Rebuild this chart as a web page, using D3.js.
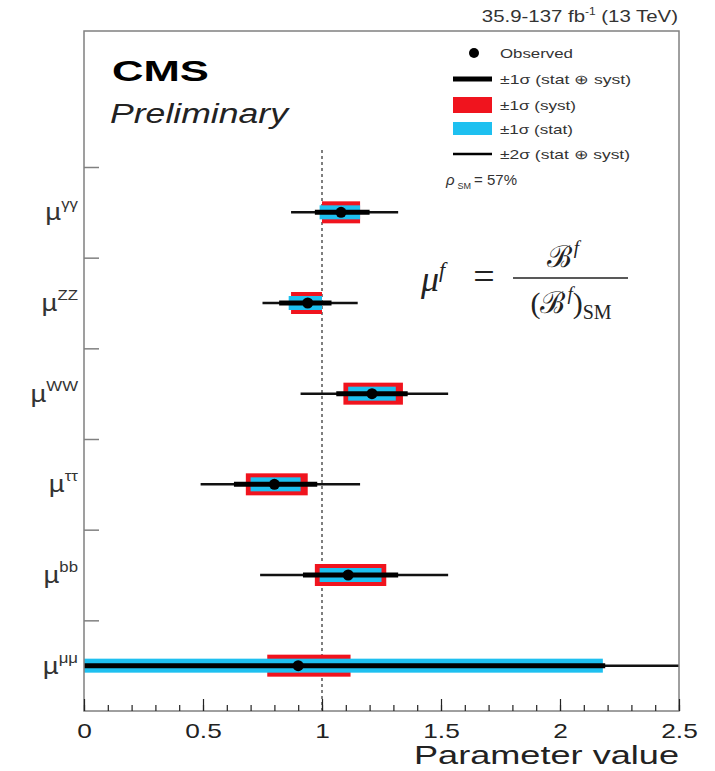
<!DOCTYPE html>
<html>
<head>
<meta charset="utf-8">
<script src="https://cdn.jsdelivr.net/npm/d3@7"></script>
<style>
  body { margin: 0; background: #fff; }
  svg { display: block; font-family: "Liberation Sans", Arial, sans-serif; }
</style>
</head>
<body>
<svg width="715" height="771"></svg>
<script>
// decay channels, from top to bottom
var canais = ["γγ", "ZZ", "WW", "ττ", "bb", "μμ"]
// best fit value
var observado = [1.08, 0.94, 1.21, 0.80, 1.11, 0.90]
// +-1 sigma total (stat + syst)
var total1Lo = [0.97, 0.82, 1.06, 0.63, 0.92, -0.5]
var total1Hi = [1.20, 1.04, 1.36, 0.98, 1.32, 2.19]
// +-1 sigma syst
var systLo = [1.00, 0.87, 1.09, 0.68, 0.97, 0.77]
var systHi = [1.16, 1.00, 1.34, 0.94, 1.27, 1.12]
// +-1 sigma stat
var statLo = [0.99, 0.86, 1.11, 0.70, 0.99, -0.4]
var statHi = [1.16, 1.00, 1.31, 0.91, 1.25, 2.18]
// +-2 sigma total
var total2Lo = [0.87, 0.75, 0.91, 0.49, 0.74, -1.5]
var total2Hi = [1.32, 1.15, 1.53, 1.16, 1.53, 3.5]

var xTicks = [0, 0.5, 1, 1.5, 2, 2.5]
var xTickLabels = ["0", "0.5", "1", "1.5", "2", "2.5"]

const width = 715
const height = 771
var esq = 84, dir = 679, topo = 31, baixo = 711

var vermelho = "#f0141e"
var azul = "#1ec0f0"
var cinza = "#808080"

var svg = d3.select("svg")

var x = d3.scaleLinear().domain([0, 2.5]).range([esq, dir])
var y = d3.scaleLinear().domain([0, 7.5]).range([baixo, topo])

// linhas da tabela, indice 0 = topo
var linhas = canais.map(function(c, i) {
    return {
        nome: c, pos: canais.length - 1 - i + 0.5,
        v: observado[i],
        t1: [total1Lo[i], total1Hi[i]], t2: [total2Lo[i], total2Hi[i]],
        sy: [systLo[i], systHi[i]], st: [statLo[i], statHi[i]]
    }
})

svg.append("defs").append("clipPath").attr("id", "area")
    .append("rect").attr("x", esq).attr("y", topo)
    .attr("width", dir - esq).attr("height", baixo - topo)

// linha tracejada em mu = 1
svg.append("line")
    .attr("x1", x(1)).attr("x2", x(1))
    .attr("y1", y(0)).attr("y2", y(6.2))
    .attr("stroke", "#555").attr("stroke-width", 1.5)
    .attr("stroke-dasharray", "3,3")

var g = svg.append("g").attr("clip-path", "url(#area)")

var linha = g.selectAll("g.canal").data(linhas).join("g").attr("class", "canal")

linha.append("line")
    .attr("x1", d => x(d.t2[0])).attr("x2", d => x(d.t2[1]))
    .attr("y1", d => y(d.pos)).attr("y2", d => y(d.pos))
    .attr("stroke", "#111").attr("stroke-width", 2.5)

linha.append("rect")
    .attr("x", d => x(d.sy[0])).attr("width", d => x(d.sy[1]) - x(d.sy[0]))
    .attr("y", d => y(d.pos) - 11).attr("height", 22)
    .attr("fill", vermelho)

linha.append("rect")
    .attr("x", d => x(d.st[0])).attr("width", d => x(d.st[1]) - x(d.st[0]))
    .attr("y", d => y(d.pos) - 7).attr("height", 14)
    .attr("fill", azul)

linha.append("line")
    .attr("x1", d => x(d.t1[0])).attr("x2", d => x(d.t1[1]))
    .attr("y1", d => y(d.pos)).attr("y2", d => y(d.pos))
    .attr("stroke", "#000").attr("stroke-width", 5)

linha.append("circle")
    .attr("cx", d => x(d.v)).attr("cy", d => y(d.pos))
    .attr("r", 5.5).attr("fill", "#000")

// moldura
svg.append("rect")
    .attr("x", esq).attr("y", topo)
    .attr("width", dir - esq).attr("height", baixo - topo)
    .attr("fill", "none").attr("stroke", cinza).attr("stroke-width", 1.5)

// eixo x: ticks menores e maiores
var eixoMenor = svg.append("g").attr("transform", "translate(0," + baixo + ")")
    .call(d3.axisBottom(x).tickValues(d3.range(0, 26).map(i => i / 10)).tickSize(-6).tickFormat(""))
var eixoX = svg.append("g").attr("transform", "translate(0," + baixo + ")")
    .call(d3.axisBottom(x).tickValues(xTicks).tickSize(-12).tickFormat((d, i) => xTickLabels[i]))
eixoMenor.select(".domain").remove()
eixoX.select(".domain").remove()
svg.selectAll(".tick line").attr("stroke", "#222").attr("stroke-width", 1.2)
eixoX.selectAll("text")
    .attr("y", 27).attr("dy", 0)
    .attr("font-size", 21).attr("fill", "#222")
    .attr("font-family", "Liberation Sans, Arial, sans-serif")
    .attr("transform", "scale(1.25,1)")

svg.append("text")
    .attr("x", dir).attr("y", 764)
    .attr("text-anchor", "end")
    .attr("font-size", 25).attr("fill", "#222")
    .attr("textLength", 265).attr("lengthAdjust", "spacingAndGlyphs")
    .text("Parameter value")

// eixo y: ticks entre as categorias
var eixoY = svg.append("g").attr("transform", "translate(" + esq + ",0)")
    .call(d3.axisLeft(y).tickValues([1, 2, 3, 4, 5, 6]).tickSize(-15).tickFormat(""))
eixoY.select(".domain").remove()
eixoY.selectAll(".tick line").attr("stroke", cinza).attr("stroke-width", 1.5)

var rotulos = svg.append("g").selectAll("text").data(linhas).join("text")
    .attr("transform", d => "translate(78," + (y(d.pos) + 8) + ") scale(1.2,1)")
    .attr("text-anchor", "end")
    .attr("fill", "#333")
rotulos.append("tspan").attr("font-size", 23).text("µ")
rotulos.append("tspan").attr("font-size", 14).attr("dy", -11).text(d => d.nome)

// CMS Preliminary
svg.append("text")
    .attr("x", 112).attr("y", 81)
    .attr("font-size", 29).attr("font-weight", "bold").attr("fill", "#000")
    .attr("textLength", 97).attr("lengthAdjust", "spacingAndGlyphs")
    .text("CMS")
svg.append("text")
    .attr("x", 110).attr("y", 123)
    .attr("font-size", 27).attr("font-style", "italic").attr("fill", "#222")
    .attr("textLength", 178).attr("lengthAdjust", "spacingAndGlyphs")
    .text("Preliminary")

// luminosidade
var lumi = svg.append("text")
    .attr("transform", "translate(678,22) scale(1.2,1)")
    .attr("text-anchor", "end")
    .attr("font-size", 17).attr("fill", "#333")
lumi.append("tspan").text("35.9-137 fb")
lumi.append("tspan").attr("font-size", 10).attr("dy", -7).text("-1")
lumi.append("tspan").attr("dy", 7).text(" (13 TeV)")

// legenda
var leg = svg.append("g")
leg.append("circle").attr("cx", 474).attr("cy", 53).attr("r", 5).attr("fill", "#000")
leg.append("line").attr("x1", 453).attr("x2", 492).attr("y1", 79).attr("y2", 79)
    .attr("stroke", "#000").attr("stroke-width", 5)
leg.append("rect").attr("x", 453).attr("y", 97).attr("width", 39).attr("height", 16).attr("fill", vermelho)
leg.append("rect").attr("x", 453).attr("y", 122).attr("width", 39).attr("height", 13).attr("fill", azul)
leg.append("line").attr("x1", 453).attr("x2", 492).attr("y1", 154).attr("y2", 154)
    .attr("stroke", "#000").attr("stroke-width", 2.5)

var itensLeg = [
    { t: "Observed", y: 53, w: 73 },
    { t: "±1σ (stat ⊕ syst)", y: 79, w: 131 },
    { t: "±1σ (syst)", y: 105, w: 76 },
    { t: "±1σ (stat)", y: 129, w: 73 },
    { t: "±2σ (stat ⊕ syst)", y: 154, w: 130 }
]
leg.selectAll("text.item").data(itensLeg).join("text")
    .attr("class", "item")
    .attr("x", 500).attr("y", d => d.y + 5)
    .attr("font-size", 13).attr("fill", "#333")
    .attr("textLength", d => d.w).attr("lengthAdjust", "spacingAndGlyphs")
    .text(d => d.t)

var rho = leg.append("text").attr("x", 446).attr("y", 185).attr("font-size", 15).attr("fill", "#333")
rho.append("tspan").attr("font-style", "italic").text("ρ")
rho.append("tspan").attr("font-size", 9).attr("dy", 4).attr("dx", 3).text("SM")
rho.append("tspan").attr("dy", -4).attr("dx", 3).text("= 57%")

// formula
var serif = "Liberation Serif, Times New Roman, serif"
var f1 = svg.append("text").attr("x", 421).attr("y", 291)
    .attr("font-family", serif).attr("font-size", 36).attr("fill", "#222")
f1.append("tspan").attr("font-style", "italic").text("μ")
f1.append("tspan").attr("font-style", "italic").attr("font-size", 22).attr("dy", -14).text("f")
svg.append("text").attr("x", 484).attr("y", 289).attr("text-anchor", "middle")
    .attr("font-family", serif).attr("font-size", 38).attr("fill", "#222").text("=")
svg.append("line").attr("x1", 513).attr("x2", 628).attr("y1", 278).attr("y2", 278)
    .attr("stroke", "#222").attr("stroke-width", 1.6)
var num = svg.append("text").attr("x", 563).attr("y", 267).attr("text-anchor", "middle")
    .attr("font-family", serif).attr("font-size", 30).attr("fill", "#222")
num.append("tspan").attr("font-family", "DejaVu Serif, serif").text("ℬ")
num.append("tspan").attr("font-style", "italic").attr("font-size", 19).attr("dy", -13).attr("dx", 2).text("f")
var den = svg.append("text").attr("x", 571).attr("y", 313).attr("text-anchor", "middle")
    .attr("font-family", serif).attr("font-size", 30).attr("fill", "#222")
den.append("tspan").text("(")
den.append("tspan").attr("font-family", "DejaVu Serif, serif").text("ℬ")
den.append("tspan").attr("font-style", "italic").attr("font-size", 19).attr("dy", -13).attr("dx", 2).text("f")
den.append("tspan").attr("dy", 13).text(")")
den.append("tspan").attr("font-size", 20).attr("dy", 6).text("SM")
</script>
</body>
</html>
